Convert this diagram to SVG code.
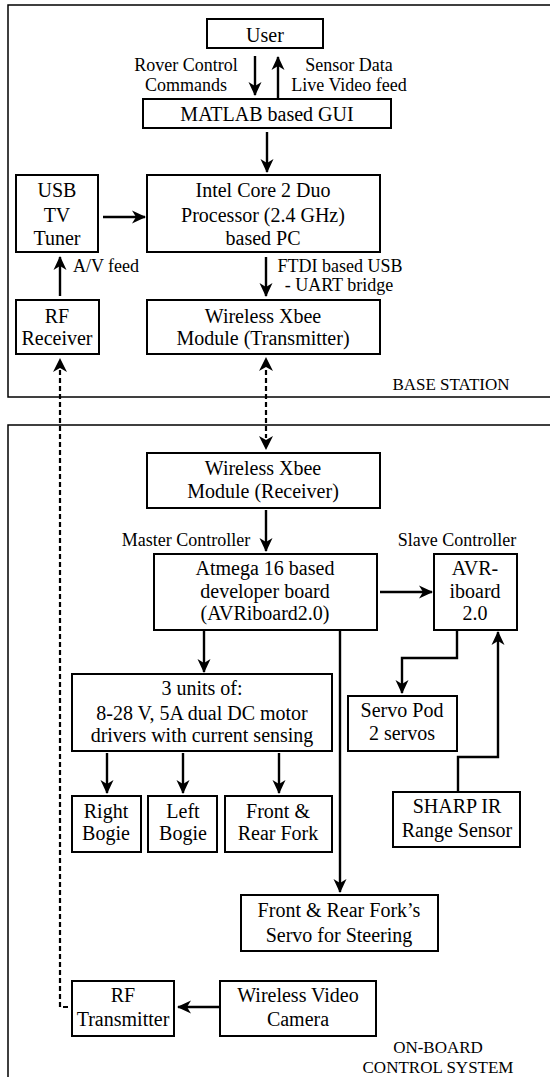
<svg xmlns="http://www.w3.org/2000/svg" width="550" height="1077" viewBox="0 0 550 1077">
<style>
.frame{fill:none;stroke:#000;stroke-width:1.5}
.box{fill:#fff;stroke:#000;stroke-width:2}
text{font-family:'Liberation Serif','DejaVu Serif',serif;text-anchor:middle;fill:#000}
.t{font-size:20px}
.l{font-size:18px}
.s{font-size:17px}
.a{fill:none;stroke:#000;stroke-width:2.4;marker-end:url(#ah)}
.d{fill:none;stroke:#000;stroke-width:2.2;stroke-dasharray:5 3}
</style>
<defs>
<marker id="ah" markerUnits="userSpaceOnUse" markerWidth="14" markerHeight="14" refX="13" refY="7" orient="auto">
<path d="M0,0.5 L14,7 L0,13.5 L4,7 z" fill="#000"/>
</marker>
</defs>
<rect class="frame" x="8" y="5" width="560" height="392"/>
<rect class="frame" x="8" y="425" width="560" height="680"/>
<text class="s" x="451" y="390">BASE STATION</text>
<text class="s" x="438" y="1053">ON-BOARD</text>
<text class="s" x="438" y="1073">CONTROL SYSTEM</text>

<g id="connectors">
<line class="a" x1="255" y1="56" x2="255" y2="95"/>
<line class="a" x1="278" y1="98" x2="278" y2="57"/>
<line class="a" x1="267" y1="132" x2="267" y2="172"/>
<line class="a" x1="103" y1="217" x2="145" y2="217"/>
<line class="a" x1="266" y1="257" x2="266" y2="296"/>
<line class="a" x1="60" y1="296" x2="60" y2="257"/>
<path class="d" d="M60,370 V1007 H71"/>
<path d="M53,372 L60,358 L67,372 L60,368 z" fill="#000"/>
<line class="d" x1="266" y1="370" x2="266" y2="438"/>
<path d="M259,371 L266,357 L273,371 L266,367 z" fill="#000"/>
<path d="M259,436 L266,450 L273,436 L266,440 z" fill="#000"/>
<line class="a" x1="266" y1="510" x2="266" y2="551"/>
<line class="a" x1="380" y1="592" x2="432" y2="592"/>
<line class="a" x1="204" y1="630" x2="204" y2="672"/>
<line class="a" x1="340" y1="630" x2="340" y2="892"/>
<line class="a" x1="107" y1="753" x2="107" y2="793"/>
<line class="a" x1="183" y1="753" x2="183" y2="793"/>
<line class="a" x1="279" y1="753" x2="279" y2="793"/>
<path class="a" d="M457,631 V658 H402 V693"/>
<path class="a" d="M458,792 V757 H498 V632"/>
<line class="a" x1="220" y1="1007" x2="178" y2="1007"/>
<text class="l" x="186" y="71">Rover Control</text>
<text class="l" x="186" y="91">Commands</text>
<text class="l" x="349" y="71">Sensor Data</text>
<text class="l" x="349" y="91">Live Video feed</text>
<text class="l" x="340" y="272">FTDI based USB</text>
<text class="l" x="339" y="291">- UART bridge</text>
<text class="l" x="106" y="272">A/V feed</text>
<text class="l" x="186" y="546">Master Controller</text>
<text class="l" x="457" y="546">Slave Controller</text>
</g>

<g id="user"><rect class="box" x="207" y="19" width="116" height="29"/><text class="t" x="265" y="42">User</text></g>
<g id="gui"><rect class="box" x="143" y="99" width="248" height="29"/><text class="t" x="267" y="121">MATLAB based GUI</text></g>
<g id="pc"><rect class="box" x="147" y="175" width="233" height="77"/>
<text class="t" x="263" y="197">Intel Core 2 Duo</text><text class="t" x="263" y="222">Processor (2.4 GHz)</text><text class="t" x="263" y="245">based PC</text></g>
<g id="tuner"><rect class="box" x="16" y="175" width="82" height="77"/>
<text class="t" x="57" y="197">USB</text><text class="t" x="57" y="222">TV</text><text class="t" x="57" y="245">Tuner</text></g>
<g id="rfrx"><rect class="box" x="16" y="300" width="83" height="54"/>
<text class="t" x="57" y="323">RF</text><text class="t" x="57" y="345">Receiver</text></g>
<g id="xbeetx"><rect class="box" x="147" y="300" width="233" height="54"/>
<text class="t" x="263" y="323">Wireless Xbee</text><text class="t" x="263" y="345">Module (Transmitter)</text></g>
<g id="xbeerx"><rect class="box" x="147" y="453" width="233" height="55"/>
<text class="t" x="263" y="475">Wireless Xbee</text><text class="t" x="263" y="498">Module (Receiver)</text></g>
<g id="atmega"><rect class="box" x="154" y="554" width="223" height="76"/>
<text class="t" x="265" y="575">Atmega 16 based</text><text class="t" x="265" y="598">developer board</text><text class="t" x="265" y="620">(AVRiboard2.0)</text></g>
<g id="avr"><rect class="box" x="434" y="554" width="83" height="76"/>
<text class="t" x="475" y="575">AVR-</text><text class="t" x="475" y="598">iboard</text><text class="t" x="475" y="620">2.0</text></g>
<g id="drivers"><rect class="box" x="72" y="674" width="260" height="77"/>
<text class="t" x="202" y="695">3 units of:</text><text class="t" x="202" y="720">8-28 V, 5A dual DC motor</text><text class="t" x="202" y="742">drivers with current sensing</text></g>
<g id="servopod"><rect class="box" x="348" y="696" width="109" height="55"/>
<text class="t" x="402" y="717">Servo Pod</text><text class="t" x="402" y="740">2 servos</text></g>
<g id="rightbogie"><rect class="box" x="72" y="796" width="69" height="56"/>
<text class="t" x="106" y="818">Right</text><text class="t" x="106" y="840">Bogie</text></g>
<g id="leftbogie"><rect class="box" x="148" y="796" width="69" height="56"/>
<text class="t" x="183" y="818">Left</text><text class="t" x="183" y="840">Bogie</text></g>
<g id="fork"><rect class="box" x="225" y="796" width="107" height="56"/>
<text class="t" x="278" y="818">Front &amp;</text><text class="t" x="278" y="840">Rear Fork</text></g>
<g id="sharp"><rect class="box" x="393" y="792" width="127" height="55"/>
<text class="t" x="457" y="813">SHARP IR</text><text class="t" x="457" y="837">Range Sensor</text></g>
<g id="steering"><rect class="box" x="241" y="895" width="197" height="56"/>
<text class="t" x="339" y="917">Front &amp; Rear Fork’s</text><text class="t" x="339" y="942">Servo for Steering</text></g>
<g id="rftx"><rect class="box" x="72" y="981" width="102" height="55"/>
<text class="t" x="123" y="1002">RF</text><text class="t" x="123" y="1026">Transmitter</text></g>
<g id="camera"><rect class="box" x="220" y="981" width="156" height="55"/>
<text class="t" x="298" y="1002">Wireless Video</text><text class="t" x="298" y="1026">Camera</text></g>
</svg>
